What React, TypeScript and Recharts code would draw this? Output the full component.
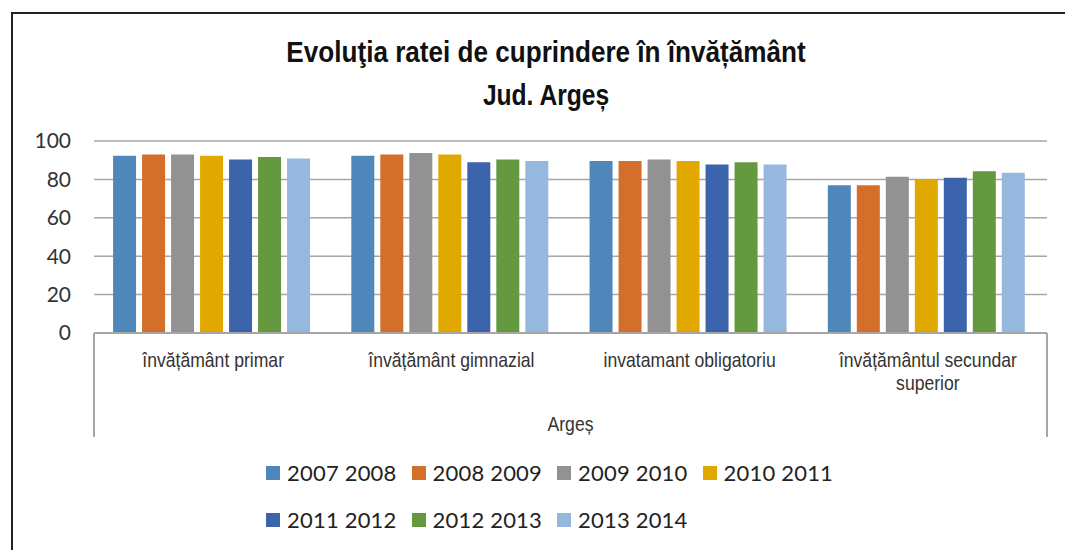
import { Bar, BarChart, CartesianGrid, Legend, XAxis, YAxis } from "recharts";

// categories on the x axis
const categories = [
  "învățământ primar",
  "învățământ gimnazial",
  "invatamant obligatoriu",
  "învățământul secundar superior",
];

const seriesNames = [
  "2007 2008",
  "2008 2009",
  "2009 2010",
  "2010 2011",
  "2011 2012",
  "2012 2013",
  "2013 2014",
];

const seriesColors = [
  "#4f87ba",
  "#d36e2b",
  "#929292",
  "#e1a800",
  "#3c64ad",
  "#64993f",
  "#97b8de",
];

// values per school year, in category order
const y2007_2008 = [92.3, 92.3, 89.6, 76.9];
const y2008_2009 = [93.0, 93.0, 89.6, 76.9];
const y2009_2010 = [93.0, 93.7, 90.3, 81.4];
const y2010_2011 = [92.3, 93.0, 89.6, 80.2];
const y2011_2012 = [90.3, 88.9, 87.7, 80.9];
const y2012_2013 = [91.7, 90.3, 88.9, 84.2];
const y2013_2014 = [90.9, 89.6, 87.7, 83.5];

const yTicks = [0, 20, 40, 60, 80, 100];

const seriesValues = [
  y2007_2008,
  y2008_2009,
  y2009_2010,
  y2010_2011,
  y2011_2012,
  y2012_2013,
  y2013_2014,
];

const data = categories.map((name, i) => {
  const row: Record<string, string | number> = { name };
  seriesNames.forEach((s, j) => {
    row[s] = seriesValues[j][i];
  });
  return row;
});

// no Arial Narrow offline, so Liberation Sans squeezed horizontally
const arial = "'Liberation Sans', Arial, sans-serif";
const body = "Lato, 'Open Sans', sans-serif";
const squeeze = 0.88;

// splits long category names into two lines like the original
const wrapLabel = (text: string) => {
  if (text.length < 25) return [text];
  const idx = text.lastIndexOf(" ");
  return [text.slice(0, idx), text.slice(idx + 1)];
};

function CategoryTick(props: any) {
  const { x, y, payload } = props;
  const lines = wrapLabel(String(payload.value));
  return (
    <g transform={`translate(${x},${y + 34}) scale(${squeeze},1)`}>
      <text x={0} y={0} textAnchor="middle" fill="#333" fontSize={20} fontFamily={arial}>
        {lines.map((l, i) => (
          <tspan key={i} x={0} dy={i === 0 ? 0 : 23}>
            {l}
          </tspan>
        ))}
      </text>
    </g>
  );
}

function AxisTitle(props: any) {
  const { viewBox } = props;
  const cx = viewBox.x + viewBox.width / 2;
  const cy = viewBox.y + viewBox.height - 6;
  return (
    <g transform={`translate(${cx},${cy}) scale(${squeeze},1)`}>
      <text x={0} y={0} textAnchor="middle" fill="#333" fontSize={20} fontFamily={arial}>
        Argeș
      </text>
    </g>
  );
}

function LegendContent(props: any) {
  const { payload } = props;
  return (
    <div
      style={{
        marginLeft: 266,
        width: 600,
        display: "flex",
        flexWrap: "wrap",
        rowGap: 19,
        paddingTop: 22,
        fontFamily: body,
        fontSize: 22,
        letterSpacing: 0.2,
        color: "#222",
        lineHeight: "28px",
      }}
    >
      {(payload || []).map((entry: any) => (
        <div
          key={entry.value}
          style={{ display: "flex", alignItems: "center", marginRight: 15 }}
        >
          <span
            style={{
              width: 14,
              height: 14,
              background: entry.color,
              marginRight: 7,
              display: "inline-block",
            }}
          />
          {entry.value}
        </div>
      ))}
    </div>
  );
}

const titleLine = {
  transform: "scaleX(0.87)",
  transformOrigin: "center",
};

export default function App() {
  return (
    <div
      style={{
        position: "relative",
        width: 1065,
        height: 550,
        overflow: "hidden",
        background: "#fff",
      }}
    >
      <style>{"body{margin:0;overflow:hidden}"}</style>
      <div
        style={{
          position: "absolute",
          left: 11,
          top: 12,
          width: 1100,
          height: 600,
          border: "2px solid #222",
        }}
      />
      <div
        style={{
          position: "absolute",
          left: 0,
          top: 30,
          width: 1092,
          textAlign: "center",
          fontFamily: arial,
          fontWeight: "bold",
          fontSize: 30,
          lineHeight: "43px",
          color: "#111",
        }}
      >
        <div style={titleLine}>Evoluţia ratei de cuprindere în învățământ</div>
        <div style={{ ...titleLine, transform: "scaleX(0.82)" }}>Jud. Argeș</div>
      </div>
      {/* sides of the category box below the plot */}
      <div style={{ position: "absolute", left: 93, top: 333, width: 2, height: 104, background: "#a6a6a6" }} />
      <div style={{ position: "absolute", left: 1046, top: 333, width: 2, height: 104, background: "#a6a6a6" }} />
      <div style={{ position: "absolute", left: 0, top: 0 }}>
        <BarChart
          width={1065}
          height={550}
          data={data}
          margin={{ top: 141, right: 18, bottom: 0, left: 34 }}
          barCategoryGap="8%"
          barGap={6}
        >
          <CartesianGrid vertical={false} stroke="#a6a6a6" strokeWidth={1.5} />
          <XAxis
            dataKey="name"
            height={104}
            axisLine={{ stroke: "#a6a6a6", strokeWidth: 2 }}
            tickLine={false}
            tickSize={0}
            tickMargin={0}
            interval={0}
            tick={<CategoryTick />}
            label={<AxisTitle />}
          />
          <YAxis
            width={60}
            domain={[0, 100]}
            ticks={yTicks}
            axisLine={false}
            tickLine={false}
            tickSize={0}
            tickMargin={23}
            tick={{ fill: "#333", fontSize: 21, fontFamily: body }}
          />
          <Legend
            verticalAlign="bottom"
            height={113}
            wrapperStyle={{ left: 0, width: 1065 }}
            content={<LegendContent />}
          />
          {seriesNames.map((s, i) => (
            <Bar
              key={s}
              dataKey={s}
              name={s}
              fill={seriesColors[i]}
              isAnimationActive={false}
            />
          ))}
        </BarChart>
      </div>
    </div>
  );
}
